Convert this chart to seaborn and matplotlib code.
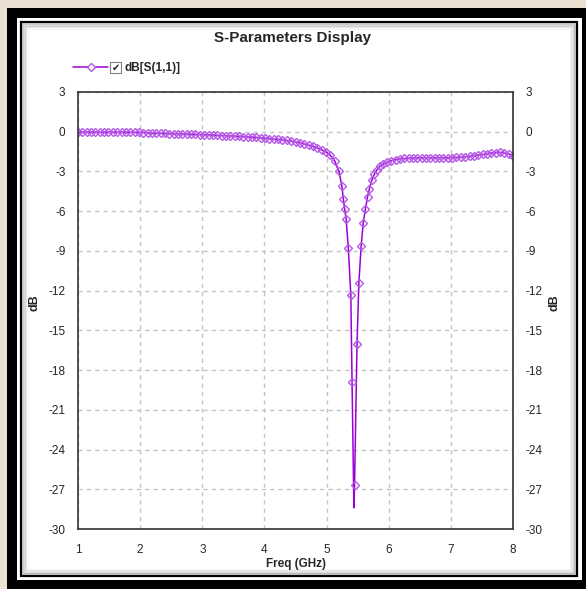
import numpy as np
import pandas as pd
import seaborn as sns
import matplotlib.pyplot as plt
from matplotlib.patches import Rectangle
from matplotlib.lines import Line2D

W, H = 586, 589

# sweep points (GHz, dB)
freq = [1.00, 1.07, 1.14, 1.21, 1.28, 1.35, 1.42, 1.49, 1.56, 1.63,
        1.70, 1.77, 1.84, 1.91, 1.98, 2.05, 2.12, 2.19, 2.26, 2.33,
        2.40, 2.47, 2.54, 2.61, 2.68, 2.75, 2.82, 2.89, 2.96, 3.03,
        3.10, 3.17, 3.24, 3.31, 3.38, 3.45, 3.52, 3.59, 3.66, 3.73,
        3.80, 3.87, 3.94, 4.01, 4.08, 4.15, 4.22, 4.29, 4.36, 4.43,
        4.50, 4.57, 4.64, 4.71, 4.78, 4.85, 4.92, 4.99, 5.06, 5.13,
        5.20, 5.245, 5.27, 5.29, 5.315, 5.35, 5.39, 5.41, 5.44, 5.45,
        5.49, 5.52, 5.557, 5.59, 5.626, 5.66, 5.69, 5.73, 5.77, 5.81,
        5.86, 5.91, 5.97, 6.04, 6.11, 6.18, 6.25, 6.32, 6.39, 6.46,
        6.53, 6.60, 6.67, 6.74, 6.81, 6.88, 6.95, 7.02, 7.09, 7.16,
        7.23, 7.30, 7.37, 7.44, 7.51, 7.58, 7.65, 7.72, 7.79, 7.86,
        7.93, 8.00]
s11_db = [-0.02, -0.02, -0.02, -0.02, -0.03, -0.03, -0.03, -0.03, -0.03, -0.03,
          -0.03, -0.04, -0.04, -0.04, -0.05, -0.06, -0.08, -0.10, -0.11, -0.12,
          -0.13, -0.14, -0.15, -0.16, -0.17, -0.18, -0.19, -0.20, -0.21, -0.22,
          -0.24, -0.26, -0.27, -0.29, -0.30, -0.32, -0.33, -0.35, -0.37, -0.39,
          -0.41, -0.43, -0.46, -0.49, -0.52, -0.55, -0.58, -0.62, -0.66, -0.71,
          -0.77, -0.84, -0.92, -1.01, -1.10, -1.22, -1.36, -1.52, -1.78, -2.20,
          -3.00, -4.07, -5.10, -5.80, -6.60, -8.80, -12.3, -18.9, -28.4, -26.7,
          -16.0, -11.4, -8.60, -6.90, -5.80, -4.90, -4.30, -3.65, -3.20, -2.90,
          -2.60, -2.45, -2.30, -2.18, -2.10, -2.05, -2.02, -2.00, -1.98, -1.97,
          -1.96, -1.96, -1.96, -1.96, -1.96, -1.96, -1.96, -1.95, -1.94, -1.92,
          -1.89, -1.85, -1.80, -1.76, -1.71, -1.66, -1.61, -1.57, -1.56, -1.60,
          -1.68, -1.80]
x_ticks = [1, 2, 3, 4, 5, 6, 7, 8]
y_ticks = [3, 0, -3, -6, -9, -12, -15, -18, -21, -24, -27, -30]

LINE = '#9a00d4'
MARK = '#b559e6'


def fx(px):
    return px / W


def fy(py):
    return 1 - py / H


def pixel_rect(fig, x0, y0, x1, y1, **kw):
    r = Rectangle((fx(x0), fy(y1)), fx(x1) - fx(x0), fy(y0) - fy(y1),
                  transform=fig.transFigure, **kw)
    fig.patches.append(r)
    return r


sns.set_style('white')
plt.rcParams['font.family'] = ['Liberation Sans', 'DejaVu Sans']
plt.rcParams['axes.unicode_minus'] = False

fig = plt.figure(figsize=(W / 100, H / 100), dpi=100, facecolor='#ebe1d3')

# frame around the panel
pixel_rect(fig, 7, 8, 586, 589, facecolor='black', edgecolor='none', zorder=-5)
pixel_rect(fig, 17, 18, 582, 580, facecolor='white', edgecolor='none', zorder=-4)
pixel_rect(fig, 21, 22, 577, 576, facecolor='white', edgecolor='black', lw=1.6, zorder=-3)
# soft inner shadow
for i, a in enumerate([0.45, 0.3, 0.18, 0.08]):
    pixel_rect(fig, 23 + i * 1.5, 24 + i * 1.5, 575 - i * 1.5, 574 - i * 1.5,
               facecolor='none', edgecolor='#909090', lw=1.5, alpha=a, zorder=-2)

ax = fig.add_axes([fx(78), fy(529), fx(513) - fx(78), fy(92) - fy(529)])
df = pd.DataFrame({'Freq (GHz)': freq, 'dB': s11_db})
marks = [i for i in range(len(freq)) if s11_db[i] != min(s11_db)]
sns.lineplot(data=df, x='Freq (GHz)', y='dB', ax=ax, color=LINE, lw=1.1,
             marker='D', ms=4, mfc='none', mec=MARK, mew=1.0,
             markevery=marks, errorbar=None, sort=False)

ax.set_xlim(1, 8)
ax.set_ylim(-30, 3)
ax.set_xticks(x_ticks)
ax.set_yticks(y_ticks)
ax.grid(True, color='#c4c4c4', ls=(0, (3, 3)), lw=1)
ax.tick_params(axis='y', length=0, labelsize=8.5, pad=9)
ax.tick_params(axis='x', length=0, labelsize=8.5, pad=11)
for s in ax.spines.values():
    s.set_color('#333333')
    s.set_linewidth(1.2)
ax.set_xlabel('Freq (GHz)', fontsize=8.5, fontweight='bold', labelpad=1)
ax.set_ylabel('')

ax2 = ax.twinx()
ax2.set_ylim(-30, 3)
ax2.set_yticks(y_ticks)
ax2.tick_params(length=0, labelsize=8.5, pad=9)
ax2.set_ylabel('')
for s in ax2.spines.values():
    s.set_visible(False)

fig.text(fx(35), fy(303), 'dB', rotation=90, ha='center', va='center',
         fontsize=9, fontweight='bold')
fig.text(fx(555), fy(303), 'dB', rotation=90, ha='center', va='center',
         fontsize=9, fontweight='bold')

fig.text(fx(293), fy(38), 'S-Parameters Display', ha='center', va='center',
         fontsize=11, fontweight='bold')

# legend: line sample, checkbox and label
handle = Line2D([], [], color=LINE, lw=1.1, marker='D', ms=4, mfc='white',
                mec=MARK, mew=1.0)
ax.legend([handle], ['dB[S(1,1)]'], loc='center left',
          bbox_to_anchor=(fx(73), fy(68)), bbox_transform=fig.transFigure,
          frameon=False, handlelength=3.0, handletextpad=1.35, borderpad=0,
          borderaxespad=0, prop={'size': 8.5, 'weight': 'bold'})
pixel_rect(fig, 110, 62, 121, 73, facecolor='white', edgecolor='#808080', lw=0.8)
fig.text(fx(115.5), fy(67.5), '\u2714', ha='center', va='center', fontsize=7,
         family='DejaVu Sans')

fig.savefig('out.png', dpi=100, facecolor=fig.get_facecolor())
